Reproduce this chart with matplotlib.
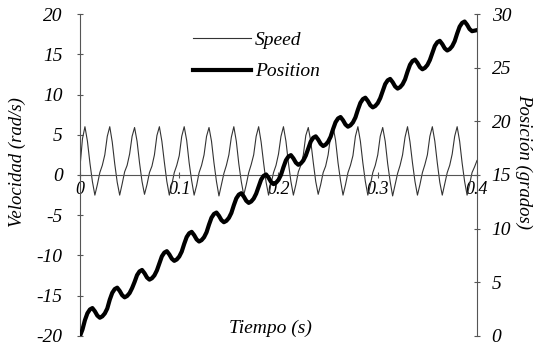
import numpy as np
import matplotlib
matplotlib.use("Agg")
import matplotlib.pyplot as plt

# 1 Data, one sample every 0.0025 s
t_start = 0.0
t_end = 0.4

speed = [1.0, 4.5,
         6.0, 4.2, 1.5, -0.8, -2.5, -1.2, 0.3, 1.2, 2.5, 4.8,
         6.0, 4.1, 1.4, -0.9, -2.5, -1.1, 0.4, 1.2, 2.6, 4.8,
         5.9, 4.2, 1.5, -0.8, -2.4, -1.2, 0.3, 1.1, 2.5, 4.9,
         6.0, 4.2, 1.6, -0.8, -2.5, -1.2, 0.3, 1.2, 2.4, 4.8,
         6.0, 4.3, 1.5, -0.7, -2.5, -1.3, 0.3, 1.2, 2.5, 4.8,
         5.9, 4.2, 1.5, -0.8, -2.6, -1.2, 0.2, 1.2, 2.5, 4.7,
         6.0, 4.2, 1.4, -0.8, -2.5, -1.2, 0.3, 1.3, 2.5, 4.8,
         6.0, 4.1, 1.5, -0.9, -2.5, -1.1, 0.3, 1.2, 2.6, 4.8,
         6.0, 4.2, 1.5, -0.8, -2.5, -1.2, 0.4, 1.2, 2.5, 4.9,
         5.9, 4.2, 1.6, -0.8, -2.4, -1.2, 0.3, 1.1, 2.5, 4.8,
         6.0, 4.3, 1.5, -0.7, -2.5, -1.2, 0.3, 1.2, 2.4, 4.8,
         6.0, 4.2, 1.5, -0.8, -2.5, -1.3, 0.3, 1.2, 2.5, 4.8,
         5.9, 4.2, 1.4, -0.8, -2.6, -1.2, 0.2, 1.2, 2.5, 4.7,
         6.0, 4.1, 1.5, -0.8, -2.5, -1.2, 0.3, 1.3, 2.5, 4.8,
         6.0, 4.2, 1.5, -0.9, -2.5, -1.1, 0.3, 1.2, 2.6, 4.8,
         6.0, 4.2, 1.5, -0.8, -2.5, -1.2, 0.3, 1.0, 1.8]

position = [0.0, 0.6,
            1.48, 2.12, 2.47, 2.6, 2.3, 1.9, 1.7, 1.83, 2.1, 2.56,
            3.38, 4.02, 4.37, 4.5, 4.2, 3.8, 3.6, 3.73, 4.0, 4.46,
            5.03, 5.67, 6.02, 6.15, 5.85, 5.45, 5.25, 5.38, 5.65, 6.11,
            6.78, 7.42, 7.77, 7.9, 7.6, 7.2, 7.0, 7.13, 7.4, 7.86,
            8.58, 9.22, 9.57, 9.7, 9.4, 9.0, 8.8, 8.93, 9.2, 9.66,
            10.38, 11.02, 11.37, 11.5, 11.2, 10.8, 10.6, 10.73, 11.0, 11.46,
            12.18, 12.82, 13.17, 13.3, 13.0, 12.6, 12.4, 12.53, 12.8, 13.26,
            13.93, 14.57, 14.92, 15.05, 14.75, 14.35, 14.15, 14.28, 14.55, 15.01,
            15.73, 16.37, 16.72, 16.85, 16.55, 16.15, 15.95, 16.08, 16.35, 16.81,
            17.48, 18.12, 18.47, 18.6, 18.3, 17.9, 17.7, 17.83, 18.1, 18.56,
            19.28, 19.92, 20.27, 20.4, 20.1, 19.7, 19.5, 19.63, 19.9, 20.36,
            21.08, 21.72, 22.07, 22.2, 21.9, 21.5, 21.3, 21.43, 21.7, 22.16,
            22.83, 23.47, 23.82, 23.95, 23.65, 23.25, 23.05, 23.18, 23.45, 23.91,
            24.63, 25.27, 25.62, 25.75, 25.45, 25.05, 24.85, 24.98, 25.25, 25.71,
            26.38, 27.02, 27.37, 27.5, 27.2, 26.8, 26.6, 26.73, 27.0, 27.46,
            28.18, 28.82, 29.17, 29.3, 29.0, 28.6, 28.4, 28.45, 28.5]

time = np.linspace(t_start, t_end, len(speed))

x_ticks = [0, 0.1, 0.2, 0.3, 0.4]
x_labels = ["0", "0.1", "0.2", "0.3", "0.4"]
v_ticks = [-20, -15, -10, -5, 0, 5, 10, 15, 20]
p_ticks = [0, 5, 10, 15, 20, 25, 30]

# 2 Figure
plt.rcParams['font.family'] = ['Liberation Serif', 'DejaVu Serif']
plt.rcParams['font.style'] = 'italic'
plt.rcParams['axes.unicode_minus'] = False

fig = plt.figure(figsize=(5.35, 3.52), dpi=100)
ax = fig.add_axes([0.1495, 0.0455, 0.7421, 0.9147])
ax2 = ax.twinx()

l1, = ax.plot(time, speed, color='#333333', lw=0.8, label='Speed')
l2, = ax2.plot(time, position, color='black', lw=3.0, label='Position')

ax.set_xlim(0, 0.4)
ax.set_ylim(-20, 20)
ax2.set_ylim(0, 30)

ax.spines['bottom'].set_position(('data', 0))
ax.spines['top'].set_visible(False)
ax.spines['right'].set_visible(False)
for s in ['top', 'left', 'bottom']:
    ax2.spines[s].set_visible(False)
for s in [ax.spines['left'], ax.spines['bottom'], ax2.spines['right']]:
    s.set_color('#555555')
    s.set_linewidth(0.8)

ax.set_xticks(x_ticks)
ax.set_xticklabels(x_labels)
ax.set_yticks(v_ticks)
ax2.set_yticks(p_ticks)

ax.tick_params(axis='x', direction='inout', length=5, width=0.8, color='#555555',
               labelsize=13, pad=2)
ax.tick_params(axis='y', direction='inout', length=5, width=0.8, color='#555555',
               labelsize=14, pad=10)
ax2.tick_params(axis='y', direction='inout', length=5, width=0.8, color='#555555',
                labelsize=14, pad=8)

fig.text(0.032, 0.54, 'Velocidad (rad/s)', rotation=90, ha='center', va='center',
         fontsize=13.5)
fig.text(0.979, 0.54, 'Posición (grados)', rotation=-90, ha='center', va='center',
         fontsize=13.5)
ax.text(0.48, 0.025, 'Tiempo (s)', transform=ax.transAxes, ha='center', va='center',
        fontsize=14)

ax.legend([l1, l2], ['Speed', 'Position'], loc='upper left',
          bbox_to_anchor=(0.24, 1.0), frameon=False, fontsize=14,
          handlelength=3.0, handletextpad=0.2, labelspacing=0.7)

plt.savefig('out.png', dpi=100)
